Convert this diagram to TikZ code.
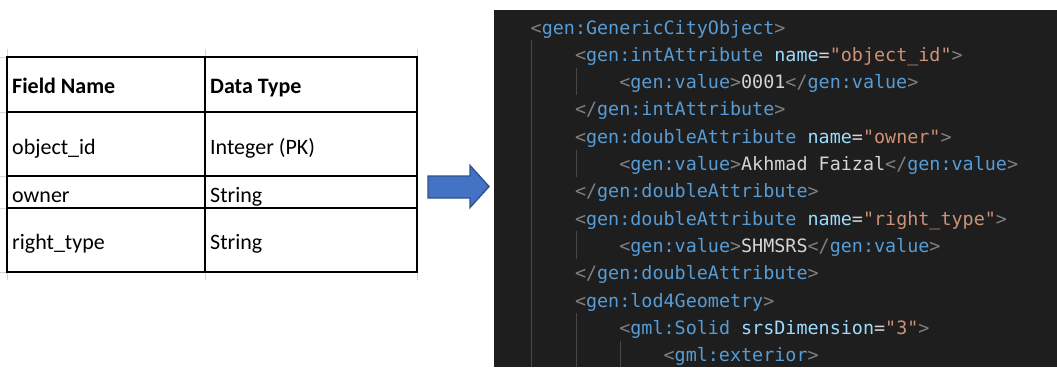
\documentclass[tikz,border=0pt]{standalone}
\usepackage{fontspec}
\setmainfont{Carlito}
\newfontfamily\codefont{DejaVu Sans Mono}
\definecolor{panelbg}{HTML}{1E1E1E}
\definecolor{cbr}{HTML}{808080}
\definecolor{ctg}{HTML}{569CD6}
\definecolor{cat}{HTML}{9CDCFE}
\definecolor{cst}{HTML}{CE9178}
\definecolor{ctx}{HTML}{D4D4D4}
\definecolor{guide}{HTML}{474747}
\definecolor{gridgray}{HTML}{D6D6D6}
\definecolor{arrowfill}{HTML}{4472C4}
\definecolor{arrowdraw}{HTML}{2F528F}
\newcommand\xbr[1]{\textcolor{cbr}{#1}}
\newcommand\xtg[1]{\textcolor{ctg}{#1}}
\newcommand\xat[1]{\textcolor{cat}{#1}}
\newcommand\xst[1]{\textcolor{cst}{#1}}
\newcommand\xtx[1]{\textcolor{ctx}{#1}}
\tikzset{
  tbl/.style={line width=1.7pt, black},
  cell/.style={anchor=base west, inner sep=0pt, font=\fontsize{22}{26}\selectfont, text=black},
  codeline/.style={anchor=base west, inner sep=0pt, font=\codefont\fontsize{18.4}{22}\selectfont},
  guideline/.style={guide, line width=0.9pt},
  gridstub/.style={gridgray, line width=0.8pt},
}
\begin{document}
\begin{tikzpicture}[x=1pt,y=-1pt]
\useasboundingbox (0,0) rectangle (1057,367);
\fill[white] (0,0) rectangle (1057,367);
% Excel gridline stubs
\foreach \yy in {57,112,176,208,272} \draw[gridstub] (0,\yy) -- (7,\yy);
\foreach \xx in {7,205,417} {\draw[gridstub] (\xx,49) -- (\xx,57); \draw[gridstub] (\xx,272) -- (\xx,280);}
% table
\draw[tbl] (7,57) rectangle (417,272);
\draw[tbl] (205,57) -- (205,272);
\foreach \yy in {112,176,208} \draw[tbl] (7,\yy) -- (417,\yy);
\node[cell, font=\fontsize{22}{26}\selectfont\bfseries] (h1) at (12,93) {Field Name};
\node[cell, font=\fontsize{22}{26}\selectfont\bfseries] (h2) at (210,93) {Data Type};
\node[cell] (r1a) at (12,154) {object\_id};
\node[cell] (r1b) at (210,154) {Integer (PK)};
\node[cell] (r2a) at (12,202) {owner};
\node[cell] (r2b) at (210,202) {String};
\node[cell] (r3a) at (12,249) {right\_type};
\node[cell] (r3b) at (210,249) {String};
% block arrow
\draw[fill=arrowfill, draw=arrowdraw, line width=1.4pt, line join=miter]
  (428,176) -- (470,176) -- (470,165.5) -- (489,186.5) -- (470,207.5) -- (470,198) -- (428,198) -- cycle;
% code panel
\fill[panelbg] (494,10) rectangle (1057,367);
\begin{scope}
\clip (494,10) rectangle (1057,367);
% indent guides
\draw[guideline] (531.5,40.3) -- (531.5,367);
\draw[guideline] (576,67.6) -- (576,94.9);
\draw[guideline] (576,149.5) -- (576,176.8);
\draw[guideline] (576,231.4) -- (576,258.7);
\draw[guideline] (576,313.3) -- (576,367);
\draw[guideline] (620.3,340.6) -- (620.3,367);
% code lines
\node[codeline] (c1) at (530.5,34) {\xbr{<}\xtg{gen:GenericCityObject}\xbr{>}};
\node[codeline] (c2) at (574.8,61.3) {\xbr{<}\xtg{gen:intAttribute} \xat{name}\xtx{=}\xst{"object\_id"}\xbr{>}};
\node[codeline] (c3) at (619.1,88.6) {\xbr{<}\xtg{gen:value}\xbr{>}\xtx{0001}\xbr{</}\xtg{gen:value}\xbr{>}};
\node[codeline] (c4) at (574.8,115.9) {\xbr{</}\xtg{gen:intAttribute}\xbr{>}};
\node[codeline] (c5) at (574.8,143.2) {\xbr{<}\xtg{gen:doubleAttribute} \xat{name}\xtx{=}\xst{"owner"}\xbr{>}};
\node[codeline] (c6) at (619.1,170.5) {\xbr{<}\xtg{gen:value}\xbr{>}\xtx{Akhmad Faizal}\xbr{</}\xtg{gen:value}\xbr{>}};
\node[codeline] (c7) at (574.8,197.8) {\xbr{</}\xtg{gen:doubleAttribute}\xbr{>}};
\node[codeline] (c8) at (574.8,225.1) {\xbr{<}\xtg{gen:doubleAttribute} \xat{name}\xtx{=}\xst{"right\_type"}\xbr{>}};
\node[codeline] (c9) at (619.1,252.4) {\xbr{<}\xtg{gen:value}\xbr{>}\xtx{SHMSRS}\xbr{</}\xtg{gen:value}\xbr{>}};
\node[codeline] (c10) at (574.8,279.7) {\xbr{</}\xtg{gen:doubleAttribute}\xbr{>}};
\node[codeline] (c11) at (574.8,307) {\xbr{<}\xtg{gen:lod4Geometry}\xbr{>}};
\node[codeline] (c12) at (619.1,334.3) {\xbr{<}\xtg{gml:Solid} \xat{srsDimension}\xtx{=}\xst{"3"}\xbr{>}};
\node[codeline] (c13) at (663.4,361.6) {\xbr{<}\xtg{gml:exterior}\xbr{>}};
\end{scope}
\end{tikzpicture}
\end{document}
